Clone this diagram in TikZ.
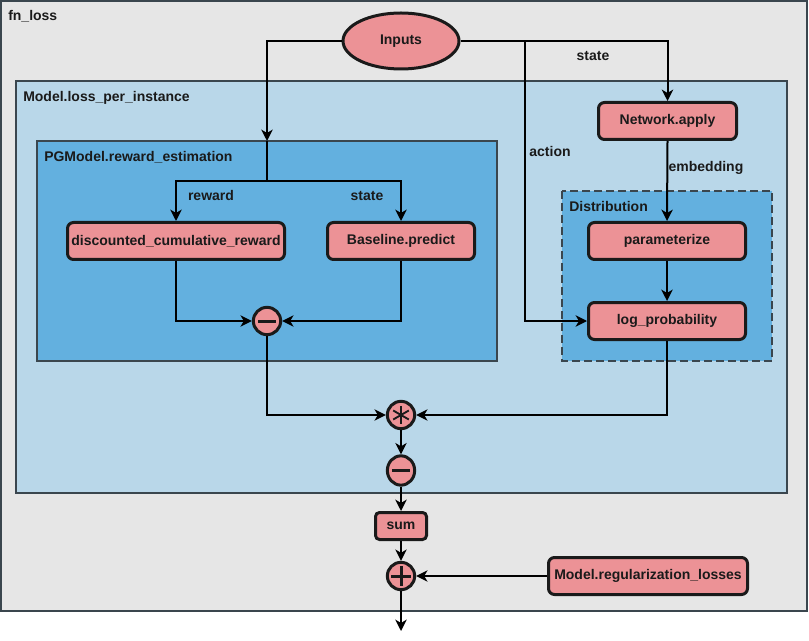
\documentclass[tikz,border=0pt]{standalone}
\usepackage{fontspec}
\setmainfont{Liberation Sans}
\usetikzlibrary{arrows.meta,shapes.geometric,calc}
\definecolor{outerbg}{HTML}{E6E6E6}
\definecolor{lossbg}{HTML}{B9D7E9}
\definecolor{pgbg}{HTML}{63B0DF}
\definecolor{nodefill}{HTML}{EC9296}
\definecolor{framecol}{HTML}{3A464E}
\definecolor{ink}{HTML}{1A1A1A}
\begin{document}
\begin{tikzpicture}[x=0.75pt,y=-0.75pt,
  txt/.style={font=\fontsize{10.5}{12}\selectfont\bfseries, text=ink},
  opbox/.style={draw=ink, line width=2.25pt, fill=nodefill, rounded corners=4.5pt, txt, inner sep=0pt},
  opcirc/.style={draw=ink, line width=2.25pt, fill=nodefill, circle, inner sep=0pt, minimum size=20.5pt},
  frame/.style={draw=framecol, line width=1.5pt},
  lbl/.style={txt, inner sep=0pt},
  wire/.style={draw=black, line width=1.5pt},
  conn/.style={wire, -{Stealth[length=8.5pt,width=8.5pt,inset=2.5pt]}},
  sym/.style={draw=ink, line width=2.25pt}
]
\useasboundingbox (0,0) rectangle (809,641);
\fill[white] (0,0) rectangle (809,641);
% frames
\draw[frame, fill=outerbg] (1,1) rectangle (807,611);
\node[lbl, anchor=north west] (fnl) at (8,10) {fn\_loss};
\draw[frame, fill=lossbg] (16,81) rectangle (787,493);
\node[lbl, anchor=north west] (mlpi) at (23,91) {Model.loss\_per\_instance};
\draw[frame, fill=pgbg] (37,141) rectangle (497,361);
\node[lbl, anchor=north west] (pgre) at (44,151) {PGModel.reward\_estimation};
\draw[frame, fill=pgbg, dashed, dash pattern=on 6pt off 3pt] (562,191) rectangle (772,361);
\node[lbl, anchor=north west] (distl) at (569,201) {Distribution};

% nodes
\node[draw=ink, line width=2.25pt, fill=nodefill, ellipse, txt, inner sep=0pt, minimum width=87pt, minimum height=42pt] (inputs) at (401,41) {Inputs};
\node[opbox, minimum width=103.5pt, minimum height=27.75pt] (net) at (667.5,121) {Network.apply};
\node[opbox, minimum width=117.75pt, minimum height=27.75pt] (param) at (667,241) {parameterize};
\node[opbox, minimum width=117.75pt, minimum height=27.75pt] (logp) at (667,321) {log\_probability};
\node[opbox, minimum width=162.75pt, minimum height=27.75pt] (dcr) at (176,241) {discounted\_cumulative\_reward};
\node[opbox, minimum width=110.25pt, minimum height=27.75pt] (base) at (401,241) {Baseline.predict};
\node[opcirc] (m1) at (267,321) {};
\node[opcirc] (star) at (401,415) {};
\node[opcirc, minimum width=20.5pt, minimum height=22pt, ellipse] (m2) at (401,470.5) {};
\node[opbox, rounded corners=3pt, minimum width=38.25pt, minimum height=20.25pt] (sum) at (401,526) {sum};
\node[opcirc] (plus) at (401,576) {};
\node[opbox, minimum width=149.25pt, minimum height=27.75pt] (reg) at (648,576) {Model.regularization\_losses};

% operator symbols
\draw[sym] ($(m1)+(-9,0)$) -- ($(m1)+(9,0)$);
\draw[sym] ($(m2)+(-9,0)$) -- ($(m2)+(9,0)$);
\draw[sym] ($(plus)+(-10,0)$) -- ($(plus)+(10,0)$);
\draw[sym] ($(plus)+(0,-10)$) -- ($(plus)+(0,10)$);
\draw[sym, line width=1.4pt] ($(star)+(0,-9)$) -- ($(star)+(0,9)$);
\draw[sym, line width=1.4pt] ($(star)+(-7.8,-4.5)$) -- ($(star)+(7.8,4.5)$);
\draw[sym, line width=1.4pt] ($(star)+(-7.8,4.5)$) -- ($(star)+(7.8,-4.5)$);

% coordinates
\coordinate (pgin) at (267,141);
\coordinate (split) at (267,181);
\coordinate (actbr) at (525,41);
\coordinate (outp) at (401,631);

% connectors
\draw[conn] (inputs.west) -| (pgin);
\draw[wire] (pgin) -- (split);
\draw[conn] (split) -| (dcr.north);
\draw[conn] (split) -| (base.north);
\draw[conn] (inputs.east) -| (net.north);
\draw[conn] (actbr) |- (logp.west);
\draw[conn] (net.south) -- (param.north);
\draw[conn] (param.south) -- (logp.north);
\draw[conn] (dcr.south) |- (m1.west);
\draw[conn] (base.south) |- (m1.east);
\draw[conn] (m1.south) |- (star.west);
\draw[conn] (logp.south) |- (star.east);
\draw[conn] (star.south) -- (m2.north);
\draw[conn] (m2.south) -- (sum.north);
\draw[conn] (sum.south) -- (plus.north);
\draw[conn] (reg.west) -- (plus.east);
\draw[conn] (plus.south) -- (outp);

% labels
\node[lbl] (lstate1) at (593,56) {state};
\node[lbl] (laction) at (550,151) {action};
\node[lbl] (lemb) at (706,168) {embedding};
\node[lbl] (lreward) at (211,195) {reward};
\node[lbl] (lstate2) at (367,196) {state};
\end{tikzpicture}
\end{document}
